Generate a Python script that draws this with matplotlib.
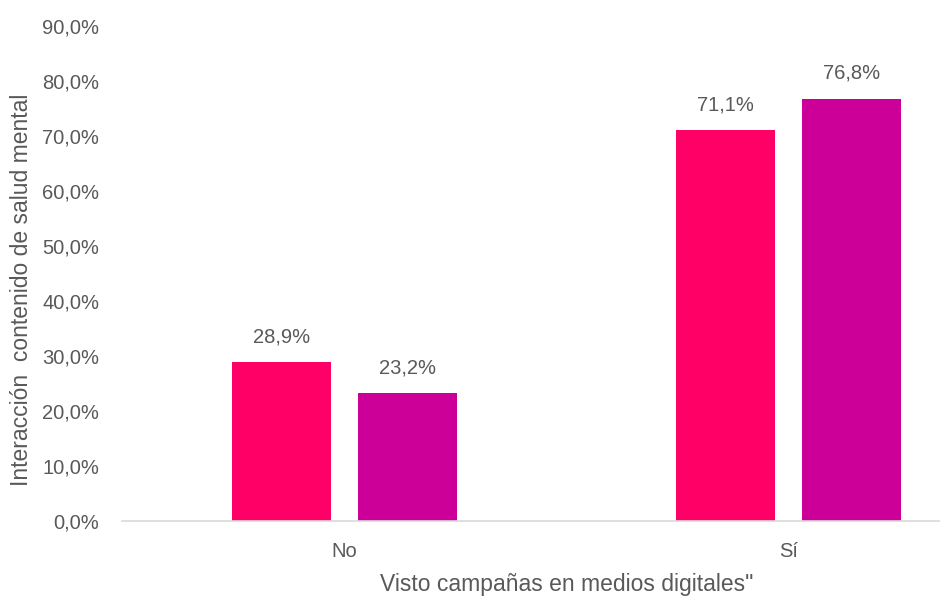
import matplotlib.pyplot as plt
import numpy as np

categories = ['No', 'Sí']
serie_a = [28.9, 71.1]
serie_b = [23.2, 76.8]
yticks = [0, 10, 20, 30, 40, 50, 60, 70, 80, 90]

plt.rcParams['font.family'] = ['Liberation Sans', 'DejaVu Sans']
GRAY = '#595959'

fig = plt.figure(figsize=(9.4, 5.98), dpi=100)
# axes reach past the right edge, the frame is cropped there
ax = fig.add_axes([122 / 940, 77 / 598, 889 / 940, 495 / 598])

x = np.arange(len(categories))
w = 0.223
off = 0.142
b1 = ax.bar(x - off, serie_a, w, color='#FF0066')
b2 = ax.bar(x + off, serie_b, w, color='#CC0099')

for bars, vals in ((b1, serie_a), (b2, serie_b)):
    for rect, v in zip(bars, vals):
        ax.text(rect.get_x() + rect.get_width() / 2, v + 4.6,
                f'{v:.1f}%'.replace('.', ','), ha='center', va='center',
                fontsize=14.5, color=GRAY)

ax.set_xlim(-0.5, 1.5)
ax.set_ylim(0, 90)
ax.set_yticks(yticks)
ax.set_yticklabels([f'{t:.1f}%'.replace('.', ',') for t in yticks])
ax.set_xticks(x)
ax.set_xticklabels(categories)
ax.tick_params(axis='both', length=0, labelsize=14.5, colors=GRAY)
ax.tick_params(axis='x', pad=15)
ax.tick_params(axis='y', pad=16.5)

for s in ('top', 'right', 'left'):
    ax.spines[s].set_visible(False)
ax.spines['bottom'].set_color('#D9D9D9')
ax.spines['bottom'].set_linewidth(1.2)

fig.text(22 / 940, 1 - 290 / 598, 'Interacción  contenido de salud mental',
         rotation=90, ha='center', va='center', fontsize=16.5, color=GRAY)
fig.text(567 / 940, 1 - 584 / 598, 'Visto campañas en medios digitales"',
         ha='center', va='center', fontsize=16.5, color=GRAY)

fig.savefig('out.png', dpi=100)
